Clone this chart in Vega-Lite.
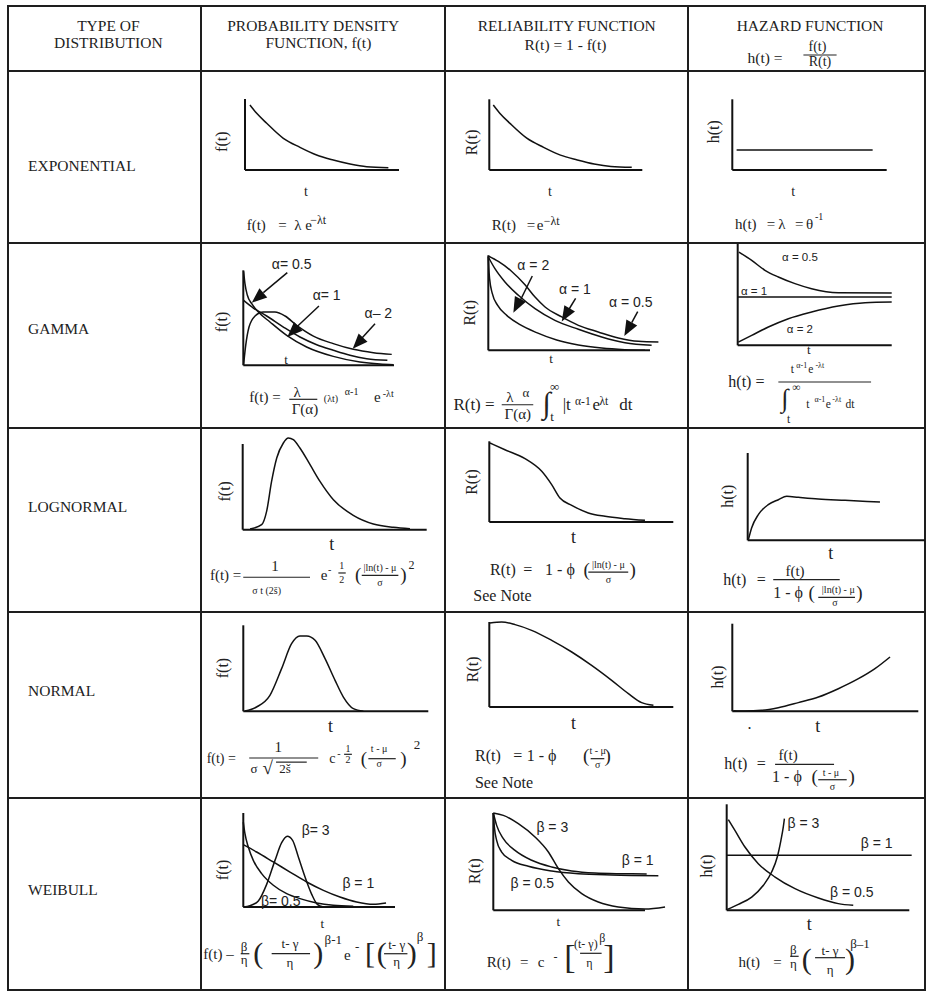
{
"$schema":"https://vega.github.io/schema/vega-lite/v6.json",
"background":"white",
"padding":{"left":7,"top":5,"right":5,"bottom":1},
"spacing":0,"bounds":"flush","align":"each","columns":4,
"config":{
 "view":{"stroke":"#1e1e1e","strokeWidth":2},
 "text":{"color":"#222"},
 "style":{
  "ttl":{"font":"Liberation Serif","fontSize":16,"angle":270,"align":"center","baseline":"middle","fill":"#2a2a3a"},
  "ts":{"font":"Liberation Serif","fontSize":14,"align":"center","baseline":"middle"},
  "tb":{"font":"Liberation Serif","fontSize":18,"align":"center","baseline":"middle"},
  "fm":{"font":"Liberation Serif","fontSize":15,"align":"left","baseline":"middle"},
  "fc":{"font":"Liberation Serif","fontSize":15,"align":"center","baseline":"middle"},
  "fs":{"font":"Liberation Serif","fontSize":10,"align":"center","baseline":"middle"},
  "sup":{"font":"Liberation Serif","fontSize":12,"align":"center","baseline":"middle"},
  "par":{"font":"Liberation Serif","fontSize":19,"align":"center","baseline":"middle"},
  "big":{"font":"Liberation Serif","fontSize":30,"align":"center","baseline":"middle"},
  "lab":{"font":"Liberation Sans","fontSize":14,"align":"center","baseline":"middle"},
  "note":{"font":"Liberation Serif","fontSize":16,"align":"left","baseline":"middle"},
  "hd":{"font":"Liberation Serif","fontSize":15.5,"align":"center","baseline":"middle","fill":"#2b2b2b"},
  "rl":{"font":"Liberation Serif","fontSize":15.5,"align":"left","baseline":"middle","fill":"#2b2b2b"}
 }
},
"concat":[
 {"width":193,"height":65,"data":{"values":[{"s":"TYPE OF","u":52,"v":69.5},{"s":"DISTRIBUTION","u":52,"v":43.8}]},"mark":{"type":"text","style":"hd"},"encoding":{"x":{"field":"u","type":"quantitative","scale":{"domain":[0,100]},"axis":null},"y":{"field":"v","type":"quantitative","scale":{"domain":[0,100]},"axis":null},"text":{"field":"s","type":"nominal"}}},
 {"width":244,"height":65,"data":{"values":[{"s":"PROBABILITY DENSITY","u":46,"v":69.5},{"s":"FUNCTION, f(t)","u":48.1,"v":43.8}]},"mark":{"type":"text","style":"hd"},"encoding":{"x":{"field":"u","type":"quantitative","scale":{"domain":[0,100]},"axis":null},"y":{"field":"v","type":"quantitative","scale":{"domain":[0,100]},"axis":null},"text":{"field":"s","type":"nominal"}}},
 {"width":243,"height":65,"data":{"values":[{"s":"RELIABILITY FUNCTION","u":50.1,"v":69.5},{"s":"R(t)  =  1 - f(t)","u":49.6,"v":40}]},"mark":{"type":"text","style":"hd"},"encoding":{"x":{"field":"u","type":"quantitative","scale":{"domain":[0,100]},"axis":null},"y":{"field":"v","type":"quantitative","scale":{"domain":[0,100]},"axis":null},"text":{"field":"s","type":"nominal"}}},
 {"width":237,"height":65,"encoding":{"x":{"field":"u","type":"quantitative","scale":{"domain":[0,100]},"axis":null},"y":{"field":"v","type":"quantitative","scale":{"domain":[0,100]},"axis":null}},"layer":[
  {"data":{"values":[{"s":"HAZARD FUNCTION","u":51.5,"v":69.2},{"s":"h(t) =","u":32.5,"v":19.5}]},"mark":{"type":"text","style":"hd"},"encoding":{"text":{"field":"s","type":"nominal"}}},
  {"data":{"values":[{"s":"f(t)","u":54.6,"v":36.5},{"s":"R(t)","u":55.7,"v":13.5}]},"mark":{"type":"text","style":"hd","fontSize":14},"encoding":{"text":{"field":"s","type":"nominal"}}},
  {"data":{"values":[{"u":48.7,"v":24.6,"u2":62.7,"v2":24.6}]},"mark":{"type":"rule","strokeWidth":1.2,"color":"#222"},"encoding":{"x2":{"field":"u2"},"y2":{"field":"v2"}}}
 ]},
 {"width":193,"height":172,"data":{"values":[{"s":"EXPONENTIAL","u":10.4,"v":44.8}]},"mark":{"type":"text","style":"rl"},"encoding":{"x":{"field":"u","type":"quantitative","scale":{"domain":[0,100]},"axis":null},"y":{"field":"v","type":"quantitative","scale":{"domain":[0,100]},"axis":null},"text":{"field":"s","type":"nominal"}}},
 {"width":244,"height":172,"encoding":{"x":{"field":"u","type":"quantitative","scale":{"domain":[-2.857,12.987],"nice":false,"zero":false},"axis":null},"y":{"field":"v","type":"quantitative","scale":{"domain":[-10.282,13.944],"nice":false,"zero":false},"axis":null}},"layer":[
  {"data":{"values":[{"u":0,"v":0,"u2":0,"v2":10},{"u":0,"v":0,"u2":10,"v2":0}]},"mark":{"type":"rule","strokeWidth":2,"color":"#111"},"encoding":{"x2":{"field":"u2"},"y2":{"field":"v2"}}},
  {"data":{"values":[{"k":"a","u":0.32,"v":9.15},{"k":"a","u":0.76,"v":7.98},{"k":"a","u":1.41,"v":6.58},{"k":"a","u":2.49,"v":4.46},{"k":"a","u":3.57,"v":3.19},{"k":"a","u":4.65,"v":2.11},{"k":"a","u":5.73,"v":1.41},{"k":"a","u":6.82,"v":0.85},{"k":"a","u":7.9,"v":0.47},{"k":"a","u":9.31,"v":0.33}]},"mark":{"type":"line","interpolate":"monotone","strokeWidth":1.5,"color":"#111"},"encoding":{"detail":{"field":"k","type":"nominal"}}},
  {"data":{"values":[{"s":"f(t)","u":-1.51,"v":3.99}]},"mark":{"type":"text","style":"ttl"},"encoding":{"text":{"field":"s","type":"nominal"}}},
  {"data":{"values":[{"s":"t","u":3.96,"v":-3.06}]},"mark":{"type":"text","style":"ts"},"encoding":{"text":{"field":"s","type":"nominal"}}},
  {"data":{"values":[{"s":"f(t)","u":0.11,"v":-7.75},{"s":"=","u":2.16,"v":-7.75},{"s":"λ e","u":3.2,"v":-7.75}]},"mark":{"type":"text","style":"fm"},"encoding":{"text":{"field":"s","type":"nominal"}}},
  {"data":{"values":[{"s":"−λt","u":4.75,"v":-7.04}]},"mark":{"type":"text","style":"sup"},"encoding":{"text":{"field":"s","type":"nominal"}}}
 ]},
 {"width":243,"height":172,"encoding":{"x":{"field":"u","type":"quantitative","scale":{"domain":[-2.895,12.987],"nice":false,"zero":false},"axis":null},"y":{"field":"v","type":"quantitative","scale":{"domain":[-10.325,14.003],"nice":false,"zero":false},"axis":null}},"layer":[
  {"data":{"values":[{"u":0,"v":0,"u2":0,"v2":10},{"u":0,"v":0,"u2":10,"v2":0}]},"mark":{"type":"rule","strokeWidth":2,"color":"#111"},"encoding":{"x2":{"field":"u2"},"y2":{"field":"v2"}}},
  {"data":{"values":[{"k":"a","u":0.26,"v":9.19},{"k":"a","u":0.7,"v":8.0},{"k":"a","u":1.35,"v":6.6},{"k":"a","u":2.45,"v":4.5},{"k":"a","u":3.55,"v":3.2},{"k":"a","u":4.65,"v":2.1},{"k":"a","u":5.75,"v":1.42},{"k":"a","u":6.85,"v":0.85},{"k":"a","u":7.95,"v":0.5},{"k":"a","u":9.31,"v":0.38}]},"mark":{"type":"line","interpolate":"monotone","strokeWidth":1.5,"color":"#111"},"encoding":{"detail":{"field":"k","type":"nominal"}}},
  {"data":{"values":[{"s":"R(t)","u":-1.15,"v":3.92}]},"mark":{"type":"text","style":"ttl"},"encoding":{"text":{"field":"s","type":"nominal"}}},
  {"data":{"values":[{"s":"t","u":3.97,"v":-3.07}]},"mark":{"type":"text","style":"ts"},"encoding":{"text":{"field":"s","type":"nominal"}}},
  {"data":{"values":[{"s":"R(t)","u":0.16,"v":-7.78},{"s":"=","u":2.44,"v":-7.78},{"s":"e","u":3.1,"v":-7.78}]},"mark":{"type":"text","style":"fm"},"encoding":{"text":{"field":"s","type":"nominal"}}},
  {"data":{"values":[{"s":"−λt","u":4.08,"v":-7.17}]},"mark":{"type":"text","style":"sup"},"encoding":{"text":{"field":"s","type":"nominal"}}}
 ]},
 {"width":237,"height":172,"encoding":{"x":{"field":"u","type":"quantitative","scale":{"domain":[-2.869,12.481],"nice":false,"zero":false},"axis":null},"y":{"field":"v","type":"quantitative","scale":{"domain":[-10.325,14.003],"nice":false,"zero":false},"axis":null}},"layer":[
  {"data":{"values":[{"u":0,"v":0,"u2":0,"v2":10},{"u":0,"v":0,"u2":10,"v2":0}]},"mark":{"type":"rule","strokeWidth":2,"color":"#111"},"encoding":{"x2":{"field":"u2"},"y2":{"field":"v2"}}},
  {"data":{"values":[{"k":"a","u":0.28,"v":2.83},{"k":"a","u":9.09,"v":2.83}]},"mark":{"type":"line","interpolate":"monotone","strokeWidth":1.5,"color":"#111"},"encoding":{"detail":{"field":"k","type":"nominal"}}},
  {"data":{"values":[{"s":"h(t)","u":-1.17,"v":5.42}]},"mark":{"type":"text","style":"ttl"},"encoding":{"text":{"field":"s","type":"nominal"}}},
  {"data":{"values":[{"s":"t","u":3.95,"v":-3.07}]},"mark":{"type":"text","style":"ts"},"encoding":{"text":{"field":"s","type":"nominal"}}},
  {"data":{"values":[{"s":"h(t)","u":0.17,"v":-7.64},{"s":"=","u":2.23,"v":-7.64},{"s":"λ","u":2.98,"v":-7.64},{"s":"=","u":4.06,"v":-7.64},{"s":"θ","u":4.77,"v":-7.64}]},"mark":{"type":"text","style":"fm"},"encoding":{"text":{"field":"s","type":"nominal"}}},
  {"data":{"values":[{"s":"-1","u":5.62,"v":-6.6}]},"mark":{"type":"text","style":"fs"},"encoding":{"text":{"field":"s","type":"nominal"}}}
 ]},
 {"width":193,"height":185,"data":{"values":[{"s":"GAMMA","u":10.4,"v":53.5}]},"mark":{"type":"text","style":"rl"},"encoding":{"x":{"field":"u","type":"quantitative","scale":{"domain":[0,100]},"axis":null},"y":{"field":"v","type":"quantitative","scale":{"domain":[0,100]},"axis":null},"text":{"field":"s","type":"nominal"}}},
 {"width":244,"height":185,"encoding":{"x":{"field":"u","type":"quantitative","scale":{"domain":[-2.807,13.384],"nice":false,"zero":false},"axis":null},"y":{"field":"v","type":"quantitative","scale":{"domain":[-6.6,12.874],"nice":false,"zero":false},"axis":null}},"layer":[
  {"data":{"values":[{"u":0,"v":0,"u2":0,"v2":10},{"u":0,"v":0,"u2":10,"v2":0}]},"mark":{"type":"rule","strokeWidth":2,"color":"#111"},"encoding":{"x2":{"field":"u2"},"y2":{"field":"v2"}}},
  {"data":{"values":[
   {"k":"a","u":0.02,"v":9.89},{"k":"a","u":0.11,"v":8.59},{"k":"a","u":0.27,"v":7.37},{"k":"a","u":0.56,"v":6.49},{"k":"a","u":1.0,"v":5.61},{"k":"a","u":1.77,"v":4.56},{"k":"a","u":2.88,"v":3.15},{"k":"a","u":4.2,"v":1.93},{"k":"a","u":5.97,"v":0.94},{"k":"a","u":7.74,"v":0.35},{"k":"a","u":9.07,"v":0.14},{"k":"a","u":9.96,"v":0.07},
   {"k":"b","u":0.02,"v":6.84},{"k":"b","u":0.67,"v":6.03},{"k":"b","u":1.55,"v":5.19},{"k":"b","u":2.66,"v":4.03},{"k":"b","u":3.76,"v":2.98},{"k":"b","u":4.87,"v":2.17},{"k":"b","u":5.97,"v":1.58},{"k":"b","u":7.08,"v":1.05},{"k":"b","u":8.19,"v":0.7},{"k":"b","u":9.56,"v":0.52},
   {"k":"c","u":0.02,"v":0.07},{"k":"c","u":0.16,"v":2.1},{"k":"c","u":0.38,"v":4.03},{"k":"c","u":0.78,"v":5.19},{"k":"c","u":1.33,"v":5.61},{"k":"c","u":2.1,"v":5.61},{"k":"c","u":2.77,"v":5.19},{"k":"c","u":3.54,"v":4.21},{"k":"c","u":4.65,"v":3.08},{"k":"c","u":5.97,"v":2.28},{"k":"c","u":7.3,"v":1.68},{"k":"c","u":8.63,"v":1.33},{"k":"c","u":9.85,"v":1.15}
  ]},"mark":{"type":"line","interpolate":"monotone","strokeWidth":1.5,"color":"#111"},"encoding":{"detail":{"field":"k","type":"nominal"}}},
  {"data":{"values":[{"u":2.92,"v":9.75,"u2":1.33,"v2":7.65},{"u":5.02,"v":6.24,"u2":3.54,"v2":4.03},{"u":8.74,"v":4.38,"u2":7.74,"v2":2.63}]},"mark":{"type":"rule","strokeWidth":1.5,"color":"#111"},"encoding":{"x2":{"field":"u2"},"y2":{"field":"v2"}}},
  {"data":{"values":[{"u":0.56,"v":6.59,"dir":230},{"u":2.92,"v":2.98,"dir":226},{"u":7.26,"v":1.75,"dir":223}]},"mark":{"type":"point","shape":"M0,0L0.8,2L-0.8,2Z","filled":true,"size":230,"color":"#111","opacity":1,"strokeWidth":0},"encoding":{"angle":{"field":"dir","type":"quantitative","scale":null}}},
  {"data":{"values":[{"s":"f(t)","u":-1.44,"v":4.56}]},"mark":{"type":"text","style":"ttl"},"encoding":{"text":{"field":"s","type":"nominal"}}},
  {"data":{"values":[{"s":"t","u":2.83,"v":0.53}]},"mark":{"type":"text","style":"ts","fontSize":13},"encoding":{"text":{"field":"s","type":"nominal"}}},
  {"data":{"values":[{"s":"α= 0.5","u":3.21,"v":10.59},{"s":"α= 1","u":5.53,"v":7.29},{"s":"α– 2","u":8.96,"v":5.37}]},"mark":{"type":"text","style":"lab"},"encoding":{"text":{"field":"s","type":"nominal"}}},
  {"data":{"values":[{"s":"f(t) =","u":0.4,"v":-3.34},{"s":"e","u":8.67,"v":-3.34}]},"mark":{"type":"text","style":"fm"},"encoding":{"text":{"field":"s","type":"nominal"}}},
  {"data":{"values":[{"s":"λ","u":3.58,"v":-2.81},{"s":"Γ(α)","u":4.09,"v":-4.57}]},"mark":{"type":"text","style":"fc"},"encoding":{"text":{"field":"s","type":"nominal"}}},
  {"data":{"values":[{"s":"(λt)","u":5.82,"v":-3.52},{"s":"α-1","u":7.19,"v":-2.81},{"s":"-λt","u":9.62,"v":-2.97}]},"mark":{"type":"text","style":"fs"},"encoding":{"text":{"field":"s","type":"nominal"}}},
  {"data":{"values":[{"u":3.05,"v":-3.58,"u2":4.91,"v2":-3.58}]},"mark":{"type":"rule","strokeWidth":1.2,"color":"#222"},"encoding":{"x2":{"field":"u2"},"y2":{"field":"v2"}}}
 ]},
 {"width":243,"height":185,"encoding":{"x":{"field":"u","type":"quantitative","scale":{"domain":[-2.678,12.35],"nice":false,"zero":false},"axis":null},"y":{"field":"v","type":"quantitative","scale":{"domain":[-8.179,11.295],"nice":false,"zero":false},"axis":null}},"layer":[
  {"data":{"values":[{"u":0,"v":0,"u2":0,"v2":10},{"u":0,"v":0,"u2":10,"v2":0}]},"mark":{"type":"rule","strokeWidth":2,"color":"#111"},"encoding":{"x2":{"field":"u2"},"y2":{"field":"v2"}}},
  {"data":{"values":[
   {"k":"a","u":0,"v":9.93},{"k":"a","u":0.62,"v":9.35},{"k":"a","u":1.45,"v":8.3},{"k":"a","u":2.27,"v":6.9},{"k":"a","u":2.89,"v":5.6},{"k":"a","u":3.51,"v":4.56},{"k":"a","u":4.54,"v":3.51},{"k":"a","u":5.57,"v":2.63},{"k":"a","u":6.8,"v":1.93},{"k":"a","u":8.04,"v":1.29},{"k":"a","u":9.28,"v":0.94},{"k":"a","u":10.52,"v":0.87},
   {"k":"b","u":0,"v":9.82},{"k":"b","u":0.41,"v":8.59},{"k":"b","u":1.03,"v":7.19},{"k":"b","u":1.86,"v":5.79},{"k":"b","u":2.89,"v":4.38},{"k":"b","u":4.12,"v":3.15},{"k":"b","u":5.57,"v":2.21},{"k":"b","u":7.01,"v":1.4},{"k":"b","u":8.45,"v":0.8},{"k":"b","u":10.1,"v":0.52},
   {"k":"c","u":0,"v":9.86},{"k":"c","u":0.03,"v":8.7},{"k":"c","u":0.08,"v":7.54},{"k":"c","u":0.25,"v":5.96},{"k":"c","u":0.58,"v":4.73},{"k":"c","u":1.14,"v":3.68},{"k":"c","u":1.96,"v":2.7},{"k":"c","u":2.99,"v":1.86},{"k":"c","u":4.23,"v":1.08},{"k":"c","u":5.57,"v":0.56},{"k":"c","u":7.01,"v":0.24},{"k":"c","u":8.45,"v":0.07},{"k":"c","u":9.69,"v":0.0}
  ]},"mark":{"type":"line","interpolate":"monotone","strokeWidth":1.5,"color":"#111"},"encoding":{"detail":{"field":"k","type":"nominal"}}},
  {"data":{"values":[{"u":2.72,"v":7.82,"u2":1.96,"v2":5.19},{"u":5.4,"v":5.47,"u2":4.99,"v2":4.32},{"u":9.24,"v":4.06,"u2":8.87,"v2":2.91}]},"mark":{"type":"rule","strokeWidth":1.5,"color":"#111"},"encoding":{"x2":{"field":"u2"},"y2":{"field":"v2"}}},
  {"data":{"values":[{"u":1.55,"v":3.96,"dir":207},{"u":4.54,"v":3.02,"dir":211},{"u":8.41,"v":1.51,"dir":209}]},"mark":{"type":"point","shape":"M0,0L0.8,2L-0.8,2Z","filled":true,"size":240,"color":"#111","opacity":1,"strokeWidth":0},"encoding":{"angle":{"field":"dir","type":"quantitative","scale":null}}},
  {"data":{"values":[{"s":"R(t)","u":-1.13,"v":3.96}]},"mark":{"type":"text","style":"ttl"},"encoding":{"text":{"field":"s","type":"nominal"}}},
  {"data":{"values":[{"s":"t","u":3.88,"v":-0.88}]},"mark":{"type":"text","style":"ts","fontSize":13},"encoding":{"text":{"field":"s","type":"nominal"}}},
  {"data":{"values":[{"s":"α = 2","u":2.78,"v":8.87},{"s":"α = 1","u":5.36,"v":6.32},{"s":"α = 0.5","u":8.81,"v":5.01}]},"mark":{"type":"text","style":"lab"},"encoding":{"text":{"field":"s","type":"nominal"}}},
  {"data":{"values":[{"s":"R(t) =","u":-2.16,"v":-5.79},{"s":"|t","u":4.6,"v":-5.79},{"s":"e","u":6.45,"v":-5.79},{"s":"dt","u":8.1,"v":-5.79}]},"mark":{"type":"text","style":"fm","fontSize":17},"encoding":{"text":{"field":"s","type":"nominal"}}},
  {"data":{"values":[{"s":"λ","u":1.34,"v":-4.92},{"s":"Γ(α)","u":1.82,"v":-6.67}]},"mark":{"type":"text","style":"fc"},"encoding":{"text":{"field":"s","type":"nominal"}}},
  {"data":{"values":[{"s":"α","u":2.33,"v":-4.46},{"s":"∞","u":4.1,"v":-3.9},{"s":"t","u":3.95,"v":-7.0}]},"mark":{"type":"text","style":"sup","fontSize":13},"encoding":{"text":{"field":"s","type":"nominal"}}},
  {"data":{"values":[{"s":"α-1","u":5.85,"v":-5.44},{"s":"λt","u":7.15,"v":-5.4}]},"mark":{"type":"text","style":"sup","fontSize":11.5},"encoding":{"text":{"field":"s","type":"nominal"}}},
  {"data":{"values":[{"s":"∫","u":3.61,"v":-5.62}]},"mark":{"type":"text","style":"big"},"encoding":{"text":{"field":"s","type":"nominal"}}},
  {"data":{"values":[{"u":0.83,"v":-5.73,"u2":2.78,"v2":-5.73}]},"mark":{"type":"rule","strokeWidth":1.2,"color":"#222"},"encoding":{"x2":{"field":"u2"},"y2":{"field":"v2"}}}
 ]},
 {"width":237,"height":185,"encoding":{"x":{"field":"u","type":"quantitative","scale":{"domain":[-3.227,12.162],"nice":false,"zero":false},"axis":null},"y":{"field":"v","type":"quantitative","scale":{"domain":[-8.14,10.069],"nice":false,"zero":false},"axis":null}},"layer":[
  {"data":{"values":[{"u":0,"v":0,"u2":0,"v2":10},{"u":0,"v":0,"u2":10,"v2":0}]},"mark":{"type":"rule","strokeWidth":2,"color":"#111"},"encoding":{"x2":{"field":"u2"},"y2":{"field":"v2"}}},
  {"data":{"values":[
   {"k":"a","u":0.08,"v":9.18},{"k":"a","u":0.91,"v":8.36},{"k":"a","u":1.77,"v":7.38},{"k":"a","u":2.64,"v":6.72},{"k":"a","u":3.72,"v":6.07},{"k":"a","u":4.8,"v":5.57},{"k":"a","u":6.53,"v":5.18},{"k":"a","u":10.0,"v":5.15},
   {"k":"b","u":0,"v":4.75},{"k":"b","u":10.0,"v":4.75},
   {"k":"c","u":0.04,"v":0.32},{"k":"c","u":0.91,"v":0.98},{"k":"c","u":1.99,"v":1.8},{"k":"c","u":3.29,"v":2.62},{"k":"c","u":4.8,"v":3.28},{"k":"c","u":6.53,"v":3.87},{"k":"c","u":8.27,"v":4.2},{"k":"c","u":10.0,"v":4.26}
  ]},"mark":{"type":"line","interpolate":"monotone","strokeWidth":1.5,"color":"#111"},"encoding":{"detail":{"field":"k","type":"nominal"}}},
  {"data":{"values":[{"s":"t","u":4.62,"v":-0.49}]},"mark":{"type":"text","style":"ts","fontSize":13},"encoding":{"text":{"field":"s","type":"nominal"}}},
  {"data":{"values":[{"s":"α = 0.5","u":4.04,"v":8.62},{"s":"α = 1","u":1.06,"v":5.24},{"s":"α = 2","u":4.04,"v":1.48}]},"mark":{"type":"text","style":"lab","fontSize":11.5},"encoding":{"text":{"field":"s","type":"nominal"}}},
  {"data":{"values":[{"s":"h(t)  =","u":-0.61,"v":-3.61}]},"mark":{"type":"text","style":"fm","fontSize":16},"encoding":{"text":{"field":"s","type":"nominal"}}},
  {"data":{"values":[{"s":"t","u":3.55,"v":-2.46},{"s":"e","u":4.74,"v":-2.46},{"s":"∞","u":3.8,"v":-4.2},{"s":"t","u":3.3,"v":-7.35},{"s":"t","u":4.55,"v":-5.85},{"s":"e","u":5.88,"v":-5.85},{"s":"dt","u":7.29,"v":-5.85}]},"mark":{"type":"text","style":"sup","fontSize":11.5},"encoding":{"text":{"field":"s","type":"nominal"}}},
  {"data":{"values":[{"s":"α-1","u":4.16,"v":-2.04},{"s":"-λt","u":5.33,"v":-2.04},{"s":"α-1","u":5.34,"v":-5.41},{"s":"-λt","u":6.43,"v":-5.41}]},"mark":{"type":"text","style":"fs","fontSize":8},"encoding":{"text":{"field":"s","type":"nominal"}}},
  {"data":{"values":[{"s":"∫","u":3.07,"v":-5.26}]},"mark":{"type":"text","style":"big","fontSize":26},"encoding":{"text":{"field":"s","type":"nominal"}}},
  {"data":{"values":[{"u":2.64,"v":-3.61,"u2":8.66,"v2":-3.61}]},"mark":{"type":"rule","strokeWidth":1.2,"color":"#222"},"encoding":{"x2":{"field":"u2"},"y2":{"field":"v2"}}}
 ]},
 {"width":193,"height":184,"data":{"values":[{"s":"LOGNORMAL","u":10.4,"v":57.1}]},"mark":{"type":"text","style":"rl"},"encoding":{"x":{"field":"u","type":"quantitative","scale":{"domain":[0,100]},"axis":null},"y":{"field":"v","type":"quantitative","scale":{"domain":[0,100]},"axis":null},"text":{"field":"s","type":"nominal"}}},
 {"width":244,"height":184,"encoding":{"x":{"field":"u","type":"quantitative","scale":{"domain":[-2.266,10.995],"nice":false,"zero":false},"axis":null},"y":{"field":"v","type":"quantitative","scale":{"domain":[-9.603,11.867],"nice":false,"zero":false},"axis":null}},"layer":[
  {"data":{"values":[{"u":0,"v":0,"u2":0,"v2":10},{"u":0,"v":0,"u2":10,"v2":0}]},"mark":{"type":"rule","strokeWidth":2,"color":"#111"},"encoding":{"x2":{"field":"u2"},"y2":{"field":"v2"}}},
  {"data":{"values":[{"k":"a","u":0.4,"v":0.08},{"k":"a","u":1.03,"v":0.59},{"k":"a","u":1.3,"v":2.14},{"k":"a","u":1.57,"v":5.64},{"k":"a","u":1.85,"v":8.37},{"k":"a","u":2.21,"v":10.12},{"k":"a","u":2.48,"v":10.7},{"k":"a","u":2.75,"v":10.51},{"k":"a","u":3.11,"v":9.53},{"k":"a","u":3.66,"v":7.59},{"k":"a","u":4.2,"v":5.64},{"k":"a","u":4.93,"v":3.5},{"k":"a","u":6.01,"v":1.68},{"k":"a","u":7.1,"v":0.67},{"k":"a","u":8.19,"v":0.28},{"k":"a","u":9.09,"v":0.12}]},"mark":{"type":"line","interpolate":"monotone","strokeWidth":1.5,"color":"#111"},"encoding":{"detail":{"field":"k","type":"nominal"}}},
  {"data":{"values":[{"s":"f(t)","u":-0.96,"v":4.48}]},"mark":{"type":"text","style":"ttl"},"encoding":{"text":{"field":"s","type":"nominal"}}},
  {"data":{"values":[{"s":"t","u":4.84,"v":-1.75}]},"mark":{"type":"text","style":"tb"},"encoding":{"text":{"field":"s","type":"nominal"}}},
  {"data":{"values":[{"s":"f(t) =","u":-1.78,"v":-5.25},{"s":"e","u":4.24,"v":-5.25}]},"mark":{"type":"text","style":"fm"},"encoding":{"text":{"field":"s","type":"nominal"}}},
  {"data":{"values":[{"s":"1","u":1.76,"v":-4.27}]},"mark":{"type":"text","style":"fc"},"encoding":{"text":{"field":"s","type":"nominal"}}},
  {"data":{"values":[{"s":"σ t (2š)","u":1.3,"v":-7.19},{"s":"-","u":4.73,"v":-4.67},{"s":"1","u":5.38,"v":-4.27},{"s":"2","u":5.38,"v":-5.83},{"s":"|ln(t) - μ","u":7.46,"v":-4.47},{"s":"σ","u":7.46,"v":-6.22}]},"mark":{"type":"text","style":"fs"},"encoding":{"text":{"field":"s","type":"nominal"}}},
  {"data":{"values":[{"s":"(","u":6.28,"v":-5.25},{"s":")","u":8.73,"v":-5.25}]},"mark":{"type":"text","style":"par"},"encoding":{"text":{"field":"s","type":"nominal"}}},
  {"data":{"values":[{"s":"2","u":9.18,"v":-4.08}]},"mark":{"type":"text","style":"sup"},"encoding":{"text":{"field":"s","type":"nominal"}}},
  {"data":{"values":[{"u":0.03,"v":-5.55,"u2":3.66,"v2":-5.55},{"u":6.47,"v":-5.32,"u2":8.46,"v2":-5.32},{"u":5.2,"v":-5.05,"u2":5.6,"v2":-5.05}]},"mark":{"type":"rule","strokeWidth":1.2,"color":"#222"},"encoding":{"x2":{"field":"u2"},"y2":{"field":"v2"}}}
 ]},
 {"width":243,"height":184,"encoding":{"x":{"field":"u","type":"quantitative","scale":{"domain":[-2.408,10.799],"nice":false,"zero":false},"axis":null},"y":{"field":"v","type":"quantitative","scale":{"domain":[-11.152,11.648],"nice":false,"zero":false},"axis":null}},"layer":[
  {"data":{"values":[{"u":0,"v":0,"u2":0,"v2":10},{"u":0,"v":0,"u2":10,"v2":0}]},"mark":{"type":"rule","strokeWidth":2,"color":"#111"},"encoding":{"x2":{"field":"u2"},"y2":{"field":"v2"}}},
  {"data":{"values":[{"k":"a","u":0.04,"v":9.79},{"k":"a","u":0.85,"v":8.96},{"k":"a","u":1.94,"v":7.85},{"k":"a","u":2.85,"v":6.28},{"k":"a","u":3.39,"v":4.63},{"k":"a","u":3.84,"v":2.97},{"k":"a","u":4.48,"v":2.07},{"k":"a","u":5.38,"v":1.12},{"k":"a","u":6.29,"v":0.7},{"k":"a","u":7.38,"v":0.41},{"k":"a","u":8.46,"v":0.21}]},"mark":{"type":"line","interpolate":"monotone","strokeWidth":1.5,"color":"#111"},"encoding":{"detail":{"field":"k","type":"nominal"}}},
  {"data":{"values":[{"s":"R(t)","u":-0.92,"v":4.96}]},"mark":{"type":"text","style":"ttl"},"encoding":{"text":{"field":"s","type":"nominal"}}},
  {"data":{"values":[{"s":"t","u":4.57,"v":-1.98}]},"mark":{"type":"text","style":"tb"},"encoding":{"text":{"field":"s","type":"nominal"}}},
  {"data":{"values":[{"s":"R(t)","u":0.04,"v":-5.91},{"s":"=","u":1.85,"v":-5.91},{"s":"1 - ϕ","u":3.03,"v":-5.91}]},"mark":{"type":"text","style":"fm","fontSize":16},"encoding":{"text":{"field":"s","type":"nominal"}}},
  {"data":{"values":[{"s":"(","u":5.29,"v":-5.91},{"s":")","u":7.79,"v":-5.91}]},"mark":{"type":"text","style":"par"},"encoding":{"text":{"field":"s","type":"nominal"}}},
  {"data":{"values":[{"s":"|ln(t) - μ","u":6.47,"v":-5.29},{"s":"σ","u":6.47,"v":-7.15}]},"mark":{"type":"text","style":"fs"},"encoding":{"text":{"field":"s","type":"nominal"}}},
  {"data":{"values":[{"u":5.38,"v":-6.2,"u2":7.55,"v2":-6.2}]},"mark":{"type":"rule","strokeWidth":1.2,"color":"#222"},"encoding":{"x2":{"field":"u2"},"y2":{"field":"v2"}}},
  {"data":{"values":[{"s":"See Note","u":-0.87,"v":-9.21}]},"mark":{"type":"text","style":"note"},"encoding":{"text":{"field":"s","type":"nominal"}}}
 ]},
 {"width":237,"height":184,"encoding":{"x":{"field":"u","type":"quantitative","scale":{"domain":[-3.367,10.0],"nice":false,"zero":false},"axis":null},"y":{"field":"v","type":"quantitative","scale":{"domain":[-8.213,12.864],"nice":false,"zero":false},"axis":null}},"layer":[
  {"data":{"values":[{"u":0,"v":0,"u2":0,"v2":10},{"u":0,"v":0,"u2":10,"v2":0}]},"mark":{"type":"rule","strokeWidth":2,"color":"#111"},"encoding":{"x2":{"field":"u2"},"y2":{"field":"v2"}}},
  {"data":{"values":[{"k":"a","u":0.04,"v":0.07},{"k":"a","u":0.22,"v":1.41},{"k":"a","u":0.6,"v":2.94},{"k":"a","u":1.16,"v":4.08},{"k":"a","u":1.73,"v":4.65},{"k":"a","u":2.2,"v":5.04},{"k":"a","u":2.86,"v":4.92},{"k":"a","u":3.98,"v":4.73},{"k":"a","u":5.49,"v":4.58},{"k":"a","u":7.46,"v":4.39}]},"mark":{"type":"line","interpolate":"monotone","strokeWidth":1.5,"color":"#111"},"encoding":{"detail":{"field":"k","type":"nominal"}}},
  {"data":{"values":[{"s":"h(t)","u":-1.13,"v":5.04}]},"mark":{"type":"text","style":"ttl"},"encoding":{"text":{"field":"s","type":"nominal"}}},
  {"data":{"values":[{"s":"t","u":4.68,"v":-1.57}]},"mark":{"type":"text","style":"tb"},"encoding":{"text":{"field":"s","type":"nominal"}}},
  {"data":{"values":[{"s":"h(t)","u":-1.38,"v":-4.51},{"s":"=","u":0.51,"v":-4.51},{"s":"1 - ϕ","u":1.44,"v":-6.04}]},"mark":{"type":"text","style":"fm","fontSize":16},"encoding":{"text":{"field":"s","type":"nominal"}}},
  {"data":{"values":[{"s":"f(t)","u":2.67,"v":-3.55}]},"mark":{"type":"text","style":"fc"},"encoding":{"text":{"field":"s","type":"nominal"}}},
  {"data":{"values":[{"s":"(","u":3.61,"v":-6.04},{"s":")","u":6.3,"v":-6.04}]},"mark":{"type":"text","style":"par"},"encoding":{"text":{"field":"s","type":"nominal"}}},
  {"data":{"values":[{"s":"|ln(t) - μ","u":5.11,"v":-5.66},{"s":"σ","u":4.92,"v":-7.18}]},"mark":{"type":"text","style":"fs"},"encoding":{"text":{"field":"s","type":"nominal"}}},
  {"data":{"values":[{"u":1.44,"v":-4.51,"u2":5.19,"v2":-4.51},{"u":3.98,"v":-6.53,"u2":6.05,"v2":-6.53}]},"mark":{"type":"rule","strokeWidth":1.2,"color":"#222"},"encoding":{"x2":{"field":"u2"},"y2":{"field":"v2"}}}
 ]},
 {"width":193,"height":186,"data":{"values":[{"s":"NORMAL","u":10.4,"v":57.5}]},"mark":{"type":"text","style":"rl"},"encoding":{"x":{"field":"u","type":"quantitative","scale":{"domain":[0,100]},"axis":null},"y":{"field":"v","type":"quantitative","scale":{"domain":[0,100]},"axis":null},"text":{"field":"s","type":"nominal"}}},
 {"width":244,"height":186,"encoding":{"x":{"field":"u","type":"quantitative","scale":{"domain":[-2.286,10.903],"nice":false,"zero":false},"axis":null},"y":{"field":"v","type":"quantitative","scale":{"domain":[-10.081,11.547],"nice":false,"zero":false},"axis":null}},"layer":[
  {"data":{"values":[{"u":0,"v":0,"u2":0,"v2":10},{"u":0,"v":0,"u2":10,"v2":0}]},"mark":{"type":"rule","strokeWidth":2,"color":"#111"},"encoding":{"x2":{"field":"u2"},"y2":{"field":"v2"}}},
  {"data":{"values":[{"k":"a","u":0.09,"v":0.03},{"k":"a","u":0.72,"v":0.5},{"k":"a","u":1.44,"v":1.86},{"k":"a","u":2.07,"v":4.96},{"k":"a","u":2.61,"v":7.86},{"k":"a","u":3.06,"v":8.76},{"k":"a","u":3.43,"v":8.76},{"k":"a","u":3.88,"v":8.25},{"k":"a","u":4.42,"v":6.12},{"k":"a","u":4.96,"v":3.6},{"k":"a","u":5.41,"v":1.66},{"k":"a","u":5.95,"v":0.31},{"k":"a","u":6.49,"v":0.0}]},"mark":{"type":"line","interpolate":"monotone","strokeWidth":1.5,"color":"#111"},"encoding":{"detail":{"field":"k","type":"nominal"}}},
  {"data":{"values":[{"s":"f(t)","u":-1.08,"v":5.03}]},"mark":{"type":"text","style":"ttl"},"encoding":{"text":{"field":"s","type":"nominal"}}},
  {"data":{"values":[{"s":"t","u":4.72,"v":-1.83}]},"mark":{"type":"text","style":"tb"},"encoding":{"text":{"field":"s","type":"nominal"}}},
  {"data":{"values":[{"s":"f(t) =","u":-1.98,"v":-5.51},{"s":"c","u":4.65,"v":-5.51}]},"mark":{"type":"text","style":"fm","fontSize":14},"encoding":{"text":{"field":"s","type":"nominal"}}},
  {"data":{"values":[{"s":"1","u":1.89,"v":-4.15}]},"mark":{"type":"text","style":"fc"},"encoding":{"text":{"field":"s","type":"nominal"}}},
  {"data":{"values":[{"s":"-","u":5.17,"v":-4.93},{"s":"1","u":5.66,"v":-4.35},{"s":"2","u":5.66,"v":-5.7},{"s":"t - μ","u":7.34,"v":-4.35},{"s":"σ","u":7.34,"v":-6.09}]},"mark":{"type":"text","style":"fs"},"encoding":{"text":{"field":"s","type":"nominal"}}},
  {"data":{"values":[{"s":"2","u":9.39,"v":-3.95},{"s":"σ","u":0.58,"v":-6.67},{"s":"2š","u":2.25,"v":-6.67}]},"mark":{"type":"text","style":"sup","fontSize":13},"encoding":{"text":{"field":"s","type":"nominal"}}},
  {"data":{"values":[{"s":"(","u":6.52,"v":-5.51},{"s":")","u":8.65,"v":-5.51},{"s":"√","u":1.32,"v":-6.6}]},"mark":{"type":"text","style":"par"},"encoding":{"text":{"field":"s","type":"nominal"}}},
  {"data":{"values":[{"u":0.32,"v":-5.43,"u2":4.05,"v2":-5.43},{"u":6.76,"v":-5.51,"u2":8.24,"v2":-5.51},{"u":5.45,"v":-5.0,"u2":5.87,"v2":-5.0},{"u":1.77,"v":-5.91,"u2":3.43,"v2":-5.91}]},"mark":{"type":"rule","strokeWidth":1.2,"color":"#222"},"encoding":{"x2":{"field":"u2"},"y2":{"field":"v2"}}}
 ]},
 {"width":243,"height":186,"encoding":{"x":{"field":"u","type":"quantitative","scale":{"domain":[-2.408,10.799],"nice":false,"zero":false},"axis":null},"y":{"field":"v","type":"quantitative","scale":{"domain":[-10.706,11.176],"nice":false,"zero":false},"axis":null}},"layer":[
  {"data":{"values":[{"u":0,"v":0,"u2":0,"v2":10},{"u":0,"v":0,"u2":10,"v2":0}]},"mark":{"type":"rule","strokeWidth":2,"color":"#111"},"encoding":{"x2":{"field":"u2"},"y2":{"field":"v2"}}},
  {"data":{"values":[{"k":"a","u":0.04,"v":9.88},{"k":"a","u":0.67,"v":10.0},{"k":"a","u":1.4,"v":9.69},{"k":"a","u":2.3,"v":9.02},{"k":"a","u":3.39,"v":7.84},{"k":"a","u":4.48,"v":6.47},{"k":"a","u":5.56,"v":4.9},{"k":"a","u":6.65,"v":3.14},{"k":"a","u":7.56,"v":1.57},{"k":"a","u":8.28,"v":0.51},{"k":"a","u":8.92,"v":0.2}]},"mark":{"type":"line","interpolate":"monotone","strokeWidth":1.5,"color":"#111"},"encoding":{"detail":{"field":"k","type":"nominal"}}},
  {"data":{"values":[{"s":"R(t)","u":-0.87,"v":4.44}]},"mark":{"type":"text","style":"ttl"},"encoding":{"text":{"field":"s","type":"nominal"}}},
  {"data":{"values":[{"s":"t","u":4.57,"v":-1.96}]},"mark":{"type":"text","style":"tb"},"encoding":{"text":{"field":"s","type":"nominal"}}},
  {"data":{"values":[{"s":"R(t)","u":-0.78,"v":-5.76},{"s":"=","u":1.3,"v":-5.76},{"s":"1 - ϕ","u":2.03,"v":-5.76}]},"mark":{"type":"text","style":"fm","fontSize":16},"encoding":{"text":{"field":"s","type":"nominal"}}},
  {"data":{"values":[{"s":"(","u":5.26,"v":-5.76},{"s":")","u":6.43,"v":-5.76}]},"mark":{"type":"text","style":"par"},"encoding":{"text":{"field":"s","type":"nominal"}}},
  {"data":{"values":[{"s":"t - μ","u":5.89,"v":-5.21},{"s":"σ","u":5.89,"v":-6.86}]},"mark":{"type":"text","style":"fs"},"encoding":{"text":{"field":"s","type":"nominal"}}},
  {"data":{"values":[{"u":5.51,"v":-6.08,"u2":6.25,"v2":-6.08}]},"mark":{"type":"rule","strokeWidth":1.2,"color":"#222"},"encoding":{"x2":{"field":"u2"},"y2":{"field":"v2"}}},
  {"data":{"values":[{"s":"See Note","u":-0.78,"v":-8.91}]},"mark":{"type":"text","style":"note"},"encoding":{"text":{"field":"s","type":"nominal"}}}
 ]},
 {"width":237,"height":186,"encoding":{"x":{"field":"u","type":"quantitative","scale":{"domain":[-2.382,10.36],"nice":false,"zero":false},"axis":null},"y":{"field":"v","type":"quantitative","scale":{"domain":[-9.897,11.336],"nice":false,"zero":false},"axis":null}},"layer":[
  {"data":{"values":[{"u":0,"v":0,"u2":0,"v2":10},{"u":0,"v":0,"u2":10,"v2":0}]},"mark":{"type":"rule","strokeWidth":2,"color":"#111"},"encoding":{"x2":{"field":"u2"},"y2":{"field":"v2"}}},
  {"data":{"values":[{"k":"a","u":0.06,"v":0.07},{"k":"a","u":0.68,"v":0.03},{"k":"a","u":1.58,"v":0.11},{"k":"a","u":2.47,"v":0.41},{"k":"a","u":3.55,"v":0.99},{"k":"a","u":4.63,"v":1.63},{"k":"a","u":5.7,"v":2.58},{"k":"a","u":6.78,"v":3.72},{"k":"a","u":7.67,"v":4.87},{"k":"a","u":8.48,"v":6.2}]},"mark":{"type":"line","interpolate":"monotone","strokeWidth":1.5,"color":"#111"},"encoding":{"detail":{"field":"k","type":"nominal"}}},
  {"data":{"values":[{"s":"h(t)","u":-0.75,"v":3.92}]},"mark":{"type":"text","style":"ttl"},"encoding":{"text":{"field":"s","type":"nominal"}}},
  {"data":{"values":[{"s":"t","u":4.59,"v":-1.79}]},"mark":{"type":"text","style":"tb"},"encoding":{"text":{"field":"s","type":"nominal"}}},
  {"data":{"values":[{"s":"h(t)","u":-0.43,"v":-5.98},{"s":"=","u":1.31,"v":-5.98},{"s":"1 - ϕ","u":2.14,"v":-7.5},{"s":".","u":0.82,"v":-1.4}]},"mark":{"type":"text","style":"fm","fontSize":16},"encoding":{"text":{"field":"s","type":"nominal"}}},
  {"data":{"values":[{"s":"f(t)","u":3.0,"v":-5.02}]},"mark":{"type":"text","style":"fc"},"encoding":{"text":{"field":"s","type":"nominal"}}},
  {"data":{"values":[{"s":"(","u":4.43,"v":-7.5},{"s":")","u":6.42,"v":-7.5}]},"mark":{"type":"text","style":"par"},"encoding":{"text":{"field":"s","type":"nominal"}}},
  {"data":{"values":[{"s":"t - μ","u":5.3,"v":-7.01},{"s":"σ","u":5.38,"v":-8.64}]},"mark":{"type":"text","style":"fs"},"encoding":{"text":{"field":"s","type":"nominal"}}},
  {"data":{"values":[{"u":2.3,"v":-6.05,"u2":5.47,"v2":-6.05},{"u":4.62,"v":-7.81,"u2":6.15,"v2":-7.81}]},"mark":{"type":"rule","strokeWidth":1.2,"color":"#222"},"encoding":{"x2":{"field":"u2"},"y2":{"field":"v2"}}}
 ]},
 {"width":193,"height":192,"data":{"values":[{"s":"WEIBULL","u":10.4,"v":52.1}]},"mark":{"type":"text","style":"rl"},"encoding":{"x":{"field":"u","type":"quantitative","scale":{"domain":[0,100]},"axis":null},"y":{"field":"v","type":"quantitative","scale":{"domain":[0,100]},"axis":null},"text":{"field":"s","type":"nominal"}}},
 {"width":244,"height":192,"encoding":{"x":{"field":"u","type":"quantitative","scale":{"domain":[-2.788,13.296],"nice":false,"zero":false},"axis":null},"y":{"field":"v","type":"quantitative","scale":{"domain":[-8.83,11.596],"nice":false,"zero":false},"axis":null}},"layer":[
  {"data":{"values":[{"u":0,"v":0,"u2":0,"v2":10},{"u":0,"v":0,"u2":10,"v2":0}]},"mark":{"type":"rule","strokeWidth":2,"color":"#111"},"encoding":{"x2":{"field":"u2"},"y2":{"field":"v2"}}},
  {"data":{"values":[
   {"k":"a","u":0.0,"v":9.04},{"k":"a","u":0.11,"v":7.8},{"k":"a","u":0.33,"v":6.38},{"k":"a","u":0.66,"v":4.96},{"k":"a","u":1.21,"v":3.55},{"k":"a","u":1.98,"v":2.31},{"k":"a","u":2.86,"v":1.42},{"k":"a","u":3.74,"v":0.89},{"k":"a","u":4.84,"v":0.43},{"k":"a","u":5.93,"v":0.18},{"k":"a","u":7.25,"v":0.07},
   {"k":"b","u":0.0,"v":6.63},{"k":"b","u":0.88,"v":5.85},{"k":"b","u":1.98,"v":4.79},{"k":"b","u":3.08,"v":3.72},{"k":"b","u":4.18,"v":2.66},{"k":"b","u":5.28,"v":1.77},{"k":"b","u":6.37,"v":1.06},{"k":"b","u":7.47,"v":0.53},{"k":"b","u":8.57,"v":0.28},{"k":"b","u":9.41,"v":0.43},
   {"k":"c","u":0.0,"v":0.0},{"k":"c","u":0.44,"v":0.14},{"k":"c","u":0.99,"v":0.64},{"k":"c","u":1.54,"v":2.41},{"k":"c","u":2.09,"v":4.96},{"k":"c","u":2.53,"v":6.84},{"k":"c","u":2.9,"v":7.52},{"k":"c","u":3.25,"v":7.09},{"k":"c","u":3.63,"v":5.32},{"k":"c","u":4.07,"v":3.19},{"k":"c","u":4.51,"v":1.35},{"k":"c","u":4.88,"v":0.28},{"k":"c","u":5.28,"v":0.0}
  ]},"mark":{"type":"line","interpolate":"monotone","strokeWidth":1.5,"color":"#111"},"encoding":{"detail":{"field":"k","type":"nominal"}}},
  {"data":{"values":[{"s":"f(t)","u":-1.32,"v":3.94}]},"mark":{"type":"text","style":"ttl"},"encoding":{"text":{"field":"s","type":"nominal"}}},
  {"data":{"values":[{"s":"t","u":5.21,"v":-1.78}]},"mark":{"type":"text","style":"ts","fontSize":13},"encoding":{"text":{"field":"s","type":"nominal"}}},
  {"data":{"values":[{"s":"β= 3","u":4.77,"v":8.09},{"s":"β = 1","u":7.58,"v":2.41},{"s":"β= 0.5","u":2.47,"v":0.53}]},"mark":{"type":"text","style":"lab"},"encoding":{"text":{"field":"s","type":"nominal"}}},
  {"data":{"values":[{"s":"f(t) –","u":-2.64,"v":-4.97},{"s":"e","u":6.64,"v":-5.14}]},"mark":{"type":"text","style":"fm"},"encoding":{"text":{"field":"s","type":"nominal"}}},
  {"data":{"values":[{"s":"β","u":0.05,"v":-4.26},{"s":"η","u":0.05,"v":-5.67},{"s":"t-   γ","u":3.08,"v":-3.9},{"s":"η","u":3.08,"v":-6.0},{"s":"β-1","u":5.93,"v":-3.54},{"s":"-","u":7.5,"v":-4.3},{"s":"t- γ","u":10.11,"v":-4.04},{"s":"η","u":10.11,"v":-5.85},{"s":"β","u":11.65,"v":-3.19}]},"mark":{"type":"text","style":"sup","fontSize":13},"encoding":{"text":{"field":"s","type":"nominal"}}},
  {"data":{"values":[{"s":"(","u":0.99,"v":-4.97},{"s":")","u":4.94,"v":-4.97},{"s":"[","u":8.35,"v":-4.97},{"s":"(","u":9.12,"v":-4.97},{"s":")","u":11.1,"v":-4.97},{"s":"]","u":12.42,"v":-4.97}]},"mark":{"type":"text","style":"big"},"encoding":{"text":{"field":"s","type":"nominal"}}},
  {"data":{"values":[{"u":-0.17,"v":-4.97,"u2":0.4,"v2":-4.97},{"u":1.87,"v":-4.97,"u2":4.4,"v2":-4.97},{"u":9.28,"v":-4.97,"u2":10.82,"v2":-4.97}]},"mark":{"type":"rule","strokeWidth":1.2,"color":"#222"},"encoding":{"x2":{"field":"u2"},"y2":{"field":"v2"}}}
 ]},
 {"width":243,"height":192,"encoding":{"x":{"field":"u","type":"quantitative","scale":{"domain":[-3.184,12.834],"nice":false,"zero":false},"axis":null},"y":{"field":"v","type":"quantitative","scale":{"domain":[-8.191,11.542],"nice":false,"zero":false},"axis":null}},"layer":[
  {"data":{"values":[{"u":0,"v":0,"u2":0,"v2":10},{"u":0,"v":0,"u2":10,"v2":0}]},"mark":{"type":"rule","strokeWidth":2,"color":"#111"},"encoding":{"x2":{"field":"u2"},"y2":{"field":"v2"}}},
  {"data":{"values":[
   {"k":"a","u":0.0,"v":10.0},{"k":"a","u":0.66,"v":9.76},{"k":"a","u":1.65,"v":8.9},{"k":"a","u":2.75,"v":7.53},{"k":"a","u":3.63,"v":5.99},{"k":"a","u":4.29,"v":4.28},{"k":"a","u":4.95,"v":2.91},{"k":"a","u":5.83,"v":1.71},{"k":"a","u":6.92,"v":0.85},{"k":"a","u":8.24,"v":0.34},{"k":"a","u":10.0,"v":0.13},{"k":"a","u":11.32,"v":0.34},
   {"k":"b","u":0.0,"v":10.0},{"k":"b","u":0.22,"v":8.73},{"k":"b","u":0.66,"v":7.36},{"k":"b","u":1.43,"v":6.16},{"k":"b","u":2.53,"v":5.14},{"k":"b","u":3.85,"v":4.45},{"k":"b","u":5.17,"v":4.04},{"k":"b","u":6.7,"v":3.83},{"k":"b","u":8.46,"v":3.76},{"k":"b","u":10.11,"v":3.73},
   {"k":"c","u":0.0,"v":10.0},{"k":"c","u":0.07,"v":8.56},{"k":"c","u":0.22,"v":7.19},{"k":"c","u":0.55,"v":5.99},{"k":"c","u":1.21,"v":5.14},{"k":"c","u":2.31,"v":4.52},{"k":"c","u":3.85,"v":4.04},{"k":"c","u":5.61,"v":3.76},{"k":"c","u":7.8,"v":3.63},{"k":"c","u":10.88,"v":3.56}
  ]},"mark":{"type":"line","interpolate":"monotone","strokeWidth":1.5,"color":"#111"},"encoding":{"detail":{"field":"k","type":"nominal"}}},
  {"data":{"values":[{"s":"R(t)","u":-1.21,"v":4.04}]},"mark":{"type":"text","style":"ttl"},"encoding":{"text":{"field":"s","type":"nominal"}}},
  {"data":{"values":[{"s":"t","u":4.29,"v":-1.2}]},"mark":{"type":"text","style":"ts","fontSize":13},"encoding":{"text":{"field":"s","type":"nominal"}}},
  {"data":{"values":[{"s":"β = 3","u":3.89,"v":8.49},{"s":"β = 1","u":9.52,"v":5.07},{"s":"β = 0.5","u":2.57,"v":2.67}]},"mark":{"type":"text","style":"lab"},"encoding":{"text":{"field":"s","type":"nominal"}}},
  {"data":{"values":[{"s":"R(t)","u":-0.44,"v":-5.31},{"s":"=","u":1.76,"v":-5.31},{"s":"c","u":2.93,"v":-5.31}]},"mark":{"type":"text","style":"fm"},"encoding":{"text":{"field":"s","type":"nominal"}}},
  {"data":{"values":[{"s":"-","u":4.1,"v":-4.8},{"s":"(t- γ)","u":6.1,"v":-3.49},{"s":"β","u":7.18,"v":-2.81},{"s":"η","u":6.33,"v":-5.38}]},"mark":{"type":"text","style":"sup"},"encoding":{"text":{"field":"s","type":"nominal"}}},
  {"data":{"values":[{"s":"[","u":5.05,"v":-4.9},{"s":"]","u":7.62,"v":-4.9}]},"mark":{"type":"text","style":"big","fontSize":34},"encoding":{"text":{"field":"s","type":"nominal"}}},
  {"data":{"values":[{"u":5.72,"v":-4.42,"u2":7.14,"v2":-4.42}]},"mark":{"type":"rule","strokeWidth":1.2,"color":"#222"},"encoding":{"x2":{"field":"u2"},"y2":{"field":"v2"}}}
 ]},
 {"width":237,"height":192,"encoding":{"x":{"field":"u","type":"quantitative","scale":{"domain":[-2.119,10.86],"nice":false,"zero":false},"axis":null},"y":{"field":"v","type":"quantitative","scale":{"domain":[-7.519,10.594],"nice":false,"zero":false},"axis":null}},"layer":[
  {"data":{"values":[{"u":0,"v":0,"u2":0,"v2":10},{"u":0,"v":0,"u2":10,"v2":0}]},"mark":{"type":"rule","strokeWidth":2,"color":"#111"},"encoding":{"x2":{"field":"u2"},"y2":{"field":"v2"}}},
  {"data":{"values":[
   {"k":"a","u":0.09,"v":8.55},{"k":"a","u":0.45,"v":7.54},{"k":"a","u":1.0,"v":5.97},{"k":"a","u":1.73,"v":4.4},{"k":"a","u":2.65,"v":3.14},{"k":"a","u":3.74,"v":2.04},{"k":"a","u":5.02,"v":1.16},{"k":"a","u":6.11,"v":0.63},{"k":"a","u":6.93,"v":0.47},
   {"k":"b","u":0.0,"v":5.19},{"k":"b","u":10.13,"v":5.19},
   {"k":"c","u":0.0,"v":0.06},{"k":"c","u":0.64,"v":0.56},{"k":"c","u":1.37,"v":1.25},{"k":"c","u":2.01,"v":2.36},{"k":"c","u":2.46,"v":3.61},{"k":"c","u":2.77,"v":5.03},{"k":"c","u":2.97,"v":6.6},{"k":"c","u":3.1,"v":7.86},{"k":"c","u":3.16,"v":8.64}
  ]},"mark":{"type":"line","interpolate":"monotone","strokeWidth":1.5,"color":"#111"},"encoding":{"detail":{"field":"k","type":"nominal"}}},
  {"data":{"values":[{"s":"h(t)","u":-1.1,"v":4.18}]},"mark":{"type":"text","style":"ttl"},"encoding":{"text":{"field":"s","type":"nominal"}}},
  {"data":{"values":[{"s":"t","u":4.52,"v":-1.42}]},"mark":{"type":"text","style":"tb"},"encoding":{"text":{"field":"s","type":"nominal"}}},
  {"data":{"values":[{"s":"β = 3","u":4.2,"v":8.11},{"s":"β = 1","u":8.21,"v":6.23},{"s":"β = 0.5","u":6.85,"v":1.66}]},"mark":{"type":"text","style":"lab"},"encoding":{"text":{"field":"s","type":"nominal"}}},
  {"data":{"values":[{"s":"h(t)","u":0.64,"v":-4.88},{"s":"=","u":2.55,"v":-4.88}]},"mark":{"type":"text","style":"fm"},"encoding":{"text":{"field":"s","type":"nominal"}}},
  {"data":{"values":[{"s":"β","u":3.65,"v":-3.72},{"s":"η","u":3.65,"v":-5.04},{"s":"t- γ","u":5.66,"v":-3.84},{"s":"η","u":5.66,"v":-5.66},{"s":"β–1","u":7.3,"v":-3.15}]},"mark":{"type":"text","style":"sup","fontSize":13},"encoding":{"text":{"field":"s","type":"nominal"}}},
  {"data":{"values":[{"s":"(","u":4.38,"v":-4.72},{"s":")","u":6.75,"v":-4.72}]},"mark":{"type":"text","style":"big"},"encoding":{"text":{"field":"s","type":"nominal"}}},
  {"data":{"values":[{"u":3.48,"v":-4.34,"u2":3.94,"v2":-4.34},{"u":4.84,"v":-4.47,"u2":6.48,"v2":-4.47}]},"mark":{"type":"rule","strokeWidth":1.2,"color":"#222"},"encoding":{"x2":{"field":"u2"},"y2":{"field":"v2"}}}
 ]}
]
}
